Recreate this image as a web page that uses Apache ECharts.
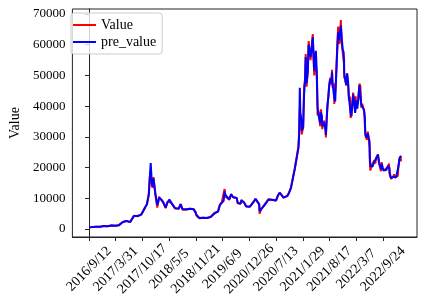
<!DOCTYPE html>
<html>
<head>
<meta charset="utf-8">
<script src="https://cdn.jsdelivr.net/npm/echarts@6/dist/echarts.min.js"></script>
<style>
  html, body { margin: 0; padding: 0; background: #fff; }
  #chart { width: 425px; height: 303px; }
</style>
</head>
<body>
<div id="chart"></div>
<script>
"use strict";
// tick labels, one every 200 rows
const tickDates = ['2016/9/12', '2017/3/31', '2017/10/17', '2018/5/5', '2018/11/21', '2019/6/9',
    '2020/12/26', '2020/7/13', '2021/1/29', '2021/8/17', '2022/3/7', '2022/9/24'];
const yTicks = [0, 10000, 20000, 30000, 40000, 50000, 60000, 70000];

// row index (days from 2016/9/12) of each sampled point
const days = [
    0, 14, 28, 42, 56, 70, 84, 98, 112, 126,
    140, 154, 168, 182, 196, 210, 224, 238, 252, 266,
    280, 294, 308, 322, 336, 350, 364, 378, 392, 406,
    420, 434, 448, 455, 462, 469, 476, 483, 490, 497,
    504, 511, 518, 525, 532, 546, 560, 574, 588, 602,
    616, 630, 644, 658, 672, 686, 700, 714, 728, 742,
    756, 770, 784, 798, 805, 812, 826, 840, 854, 868,
    882, 896, 910, 924, 938, 952, 966, 980, 994, 1008,
    1015, 1022, 1036, 1050, 1064, 1078, 1092, 1106, 1113, 1120,
    1134, 1141, 1148, 1162, 1176, 1190, 1204, 1218, 1232, 1246,
    1260, 1274, 1277, 1288, 1302, 1316, 1330, 1344, 1358, 1372,
    1386, 1400, 1414, 1428, 1442, 1456, 1470, 1484, 1498, 1512,
    1526, 1540, 1554, 1568, 1573, 1578, 1582, 1591, 1593, 1603,
    1610, 1617, 1622, 1629, 1638, 1644, 1652, 1658, 1666, 1675,
    1680, 1686, 1694, 1698, 1705, 1711, 1716, 1723, 1730, 1736,
    1743, 1746, 1757, 1764, 1771, 1773, 1778, 1785, 1792, 1798,
    1806, 1814, 1819, 1823, 1834, 1836, 1843, 1848, 1854, 1860,
    1865, 1871, 1877, 1885, 1892, 1899, 1906, 1909, 1910, 1920,
    1925, 1932, 1939, 1946, 1953, 1958, 1964, 1970, 1977, 1985,
    1992, 1994, 1996, 2001, 2008, 2015, 2024, 2031, 2038, 2045,
    2052, 2059, 2064, 2067, 2071, 2080, 2087, 2094, 2100, 2102,
    2106, 2115, 2122, 2129, 2136, 2143, 2150, 2157, 2163, 2170,
    2178, 2185, 2191, 2198, 2205, 2212, 2219, 2226, 2233, 2240,
    2245, 2249, 2251, 2261, 2270, 2277, 2284, 2291, 2298, 2305,
    2311, 2317, 2324, 2331, 2336
];

const value = [
    608, 605, 617, 655, 710, 740, 765, 790, 1020, 830,
    920, 1000, 1190, 1240, 1045, 1210, 1250, 1720, 2270, 2690,
    2620, 2500, 2230, 2870, 4320, 4580, 4160, 3930, 4780, 5930,
    6960, 8200, 11600, 17000, 19000, 14500, 13400, 16900, 13600, 11200,
    11200, 7000, 8900, 10500, 10300, 9200, 8200, 6800, 8900, 9400,
    8500, 7600, 6700, 6600, 6700, 8200, 6300, 6900, 6300, 6600,
    6600, 6500, 6400, 5600, 4300, 3900, 3500, 3800, 3650, 3450,
    3600, 3800, 3900, 3950, 5200, 5400, 5700, 8000, 8700, 9300,
    13000, 10600, 10300, 9500, 11400, 10300, 10300, 10000, 8400, 8200,
    8200, 9500, 9400, 8500, 7300, 7100, 7250, 8100, 8900, 9850,
    9650, 7900, 5000, 6500, 7200, 6850, 8900, 9700, 10200, 9450,
    9190, 9250, 11000, 11900, 11750, 10100, 10400, 10800, 11900, 13550,
    16700, 19700, 19300, 27000, 32000, 39500, 35500, 35500, 30800, 33500,
    46400, 48700, 57000, 46300, 52300, 61200, 57500, 55000, 58700, 63500,
    56000, 50000, 57000, 57500, 49700, 37000, 38500, 37300, 33500, 39000,
    35600, 32500, 35300, 34200, 31800, 29800, 35400, 39900, 43800, 47100,
    49300, 47000, 51800, 46000, 47300, 40700, 41000, 48200, 55000, 61500,
    65900, 60300, 61000, 68000, 60000, 57500, 57000, 53600, 49400, 48400,
    46700, 50800, 47300, 41800, 43100, 36200, 37000, 36900, 44400, 40600,
    38300, 39100, 43200, 39400, 38800, 42200, 47300, 46600, 39500, 40800,
    40400, 38500, 35500, 31000, 30000, 29100, 31700, 31400, 26600, 22100,
    19000, 20700, 20200, 20800, 22400, 21300, 23300, 23800, 24300, 21500,
    20300, 18800, 21800, 19400, 18800, 19300, 19400, 19200, 19500, 20600,
    21300, 18500, 17600, 16300, 16400, 17100, 17800, 16900, 16700, 16700,
    17200, 20900, 22700, 23700, 22000
];

const preValue = [
    610, 607, 615, 650, 705, 745, 760, 795, 990, 870,
    910, 990, 1170, 1250, 1080, 1190, 1260, 1650, 2200, 2700,
    2650, 2520, 2300, 2800, 4200, 4600, 4250, 3900, 4700, 5800,
    7100, 8000, 11200, 16500, 21500, 16000, 13800, 16400, 14200, 11500,
    11400, 7900, 8600, 10200, 10500, 9400, 8400, 7000, 8700, 9600,
    8600, 7700, 6800, 6500, 6600, 8000, 6500, 6800, 6400, 6550,
    6600, 6500, 6450, 5800, 4600, 4100, 3600, 3750, 3700, 3500,
    3600, 3800, 3900, 3950, 5000, 5350, 5750, 7800, 8500, 9200,
    12200, 11000, 10600, 9700, 11300, 10400, 10300, 10100, 8600, 8300,
    8200, 9300, 9400, 8600, 7400, 7100, 7250, 8000, 8800, 9800,
    9700, 8100, 5800, 6400, 7100, 6900, 8700, 9600, 10100, 9500,
    9200, 9250, 10800, 11800, 11700, 10300, 10400, 10700, 11800, 13400,
    16400, 19400, 19400, 26500, 30500, 46000, 38000, 35000, 32000, 33000,
    44000, 48000, 56000, 47500, 51500, 60000, 58000, 56000, 58500, 62500,
    57500, 51500, 56500, 58000, 51000, 40000, 37500, 37000, 34500, 38000,
    36500, 33500, 34800, 34300, 32200, 30600, 34500, 40500, 43000, 46500,
    48800, 47500, 51000, 47500, 47000, 42500, 41500, 47500, 54000, 60000,
    64000, 61500, 61200, 66200, 62000, 58500, 57500, 55000, 51000, 48000,
    47000, 50500, 48000, 42500, 42800, 38000, 36800, 37200, 43800, 41500,
    37800, 38800, 42000, 40000, 39200, 41800, 46800, 46800, 40500, 40500,
    40600, 38700, 36500, 32500, 30500, 29800, 31000, 31500, 28500, 23500,
    20500, 20800, 20300, 20900, 22000, 21800, 23000, 23600, 24200, 22000,
    20500, 19500, 21200, 20000, 19000, 19200, 19400, 19300, 19400, 20500,
    21000, 19800, 18200, 16600, 16300, 17000, 17600, 17000, 16800, 16700,
    17100, 20500, 23000, 23500, 23800
];

const chart = echarts.init(document.getElementById('chart'));
const font = "'Liberation Serif', 'Times New Roman', serif";

const option = {
    animation: false,
    backgroundColor: '#fff',
    grid: {
        left: 64,
        right: 8,
        top: 9,
        bottom: 66,
        show: true,
        borderColor: '#222',
        borderWidth: 1
    },
    legend: {
        left: 71,
        top: 13,
        orient: 'vertical',
        itemWidth: 23,
        itemHeight: 2,
        itemGap: 3,
        padding: [5, 6, 5, 2],
        borderColor: '#ccc',
        borderWidth: 1,
        borderRadius: 3,
        backgroundColor: 'rgba(255,255,255,0.8)',
        icon: 'rect',
        textStyle: {
            fontFamily: font,
            fontSize: 14,
            lineHeight: 13,
            color: '#000'
        },
        data: ['Value', 'pre_value']
    },
    xAxis: {
        type: 'value',
        min: -124,
        max: 2455,
        axisLine: { show: true, onZero: false, lineStyle: { color: '#222' } },
        axisTick: {
            show: true,
            length: 4,
            lineStyle: { color: '#222' },
            customValues: tickDates.map((d, i) => i * 200)
        },
        axisLabel: {
            rotate: 45,
            align: 'center',
            verticalAlign: 'middle',
            margin: 32,
            fontFamily: font,
            fontSize: 14,
            color: '#000',
            customValues: tickDates.map((d, i) => i * 200),
            formatter: v => tickDates[Math.round(v / 200)] || ''
        },
        splitLine: { show: false }
    },
    yAxis: {
        type: 'value',
        min: -2601,
        max: 71625,
        name: 'Value',
        nameLocation: 'middle',
        nameGap: 50,
        nameTextStyle: { fontFamily: font, fontSize: 14, color: '#000' },
        axisLine: { show: true, lineStyle: { color: '#222' } },
        axisTick: {
            show: true,
            length: 4,
            lineStyle: { color: '#222' },
            customValues: yTicks
        },
        axisLabel: {
            margin: 7,
            fontFamily: font,
            fontSize: 13,
            color: '#000',
            customValues: yTicks,
            formatter: v => String(v)
        },
        splitLine: { show: false }
    },
    series: [
        {
            name: 'Value',
            type: 'line',
            showSymbol: false,
            color: '#ff0000',
            lineStyle: { width: 2, color: '#ff0000' },
            data: days.map((d, i) => [d, value[i]])
        },
        {
            name: 'pre_value',
            type: 'line',
            showSymbol: false,
            color: '#0000ff',
            lineStyle: { width: 2, color: '#0000ff' },
            data: days.map((d, i) => [d, preValue[i]])
        }
    ]
};
chart.setOption(option);
</script>
</body>
</html>
